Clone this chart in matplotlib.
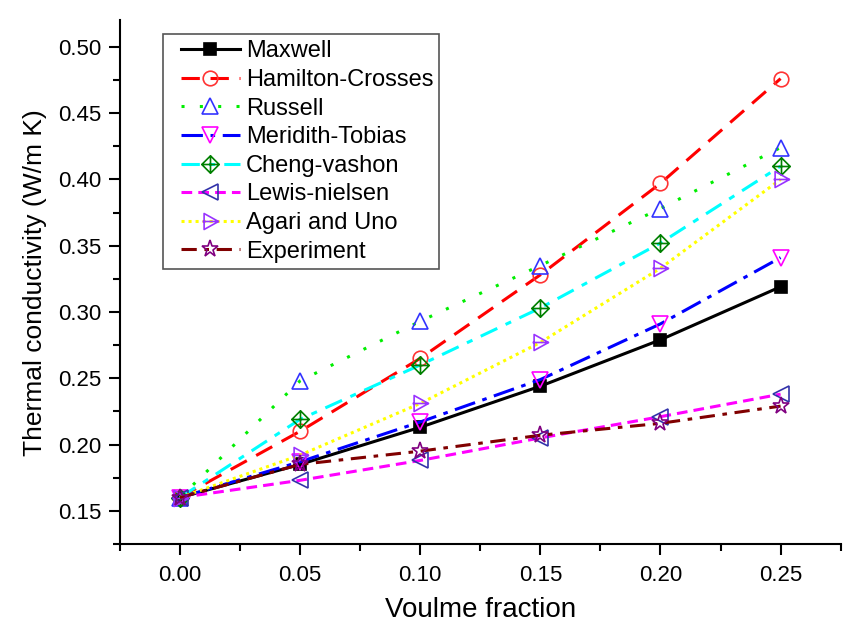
import matplotlib
matplotlib.use("Agg")
import matplotlib.pyplot as plt
from matplotlib.path import Path
from matplotlib.lines import Line2D
from matplotlib.legend_handler import HandlerLine2D
from matplotlib.ticker import MultipleLocator, FormatStrFormatter

plt.rcParams['font.family'] = ['Liberation Sans', 'DejaVu Sans']

volume_fraction = [0.00, 0.05, 0.10, 0.15, 0.20, 0.25]

maxwell = [0.160, 0.185, 0.213, 0.244, 0.279, 0.319]
hamilton_crosses = [0.160, 0.210, 0.265, 0.328, 0.397, 0.476]
russell = [0.160, 0.248, 0.293, 0.335, 0.378, 0.424]
meridith_tobias = [0.160, 0.187, 0.217, 0.249, 0.291, 0.341]
cheng_vashon = [0.160, 0.219, 0.260, 0.303, 0.352, 0.410]
lewis_nielsen = [0.160, 0.173, 0.188, 0.205, 0.221, 0.238]
agari_uno = [0.160, 0.192, 0.231, 0.277, 0.333, 0.400]
experiment = [0.160, 0.185, 0.195, 0.207, 0.216, 0.229]

# Diamond with an inner cross, and a right-pointing triangle with a centre line
diamond_cross = Path(
    [(0, 1), (1, 0), (0, -1), (-1, 0), (0, 1), (0, 1), (0, -1), (-1, 0), (1, 0)],
    [Path.MOVETO, Path.LINETO, Path.LINETO, Path.LINETO, Path.CLOSEPOLY,
     Path.MOVETO, Path.LINETO, Path.MOVETO, Path.LINETO])
tri_right_line = Path(
    [(-0.8, 1), (1, 0), (-0.8, -1), (-0.8, 1), (-0.8, 1), (-1.0, 0), (1.0, 0)],
    [Path.MOVETO, Path.LINETO, Path.LINETO, Path.LINETO, Path.CLOSEPOLY,
     Path.MOVETO, Path.LINETO])

series = [
    ("Maxwell", maxwell, dict(color='black', ls='-', marker='s', ms=8.5,
                              mfc='black', mec='black')),
    ("Hamilton-Crosses", hamilton_crosses, dict(color='#ff0000', ls=(0, (6, 3.5)), marker='o', ms=10.5,
                                                mfc='none', mec='#ff3333')),
    ("Russell", russell, dict(color='#00ee00', ls=(0, (1, 5)), marker='^', ms=11.5,
                              mfc='none', mec='#3333ff')),
    ("Meridith-Tobias", meridith_tobias, dict(color='#0000ff', ls=(0, (7, 2.5, 1.5, 2.5)), marker='v', ms=11.5,
                                              mfc='none', mec='#ff00ff')),
    ("Cheng-vashon", cheng_vashon, dict(color='#00ffff', ls=(0, (6, 3, 2, 3)), marker=diamond_cross, ms=12.5,
                                        mfc='none', mec='#008000')),
    ("Lewis-nielsen", lewis_nielsen, dict(color='#ff00ff', ls=(0, (3.5, 2)), marker='<', ms=11.5,
                                          mfc='none', mec='#3333aa')),
    ("Agari and Uno", agari_uno, dict(color='#ffff00', ls=(0, (1, 1.3)), marker=tri_right_line, ms=11.5,
                                      mfc='none', mec='#9933ff')),
    ("Experiment", experiment, dict(color='#800000', ls=(0, (5, 2.5, 1.5, 2.5)), marker='*', ms=12.5,
                                    mfc='none', mec='#800080')),
]

fig = plt.figure(figsize=(8.5, 6.34), dpi=100)
ax = fig.add_axes([0.141, 0.142, 0.848, 0.826])

for name, vals, style in series:
    ax.plot(volume_fraction, vals, label=name, lw=2.2, mew=1.2, **style)

ax.set_xlim(-0.025, 0.275)
ax.set_ylim(0.125, 0.52)
ax.xaxis.set_major_locator(MultipleLocator(0.05))
ax.xaxis.set_minor_locator(MultipleLocator(0.025))
ax.yaxis.set_major_locator(MultipleLocator(0.05))
ax.yaxis.set_minor_locator(MultipleLocator(0.025))
ax.xaxis.set_major_formatter(FormatStrFormatter('%.2f'))
ax.yaxis.set_major_formatter(FormatStrFormatter('%.2f'))

for side in ('top', 'right'):
    ax.spines[side].set_visible(False)
for side in ('left', 'bottom'):
    ax.spines[side].set_linewidth(1.5)

ax.tick_params(which='major', direction='out', length=8, width=1.5, labelsize=16)
ax.tick_params(axis='y', which='major', pad=5)
ax.tick_params(axis='x', which='major', pad=7)
ax.tick_params(which='minor', direction='out', length=5, width=1.5)

ax.set_xlabel('Voulme fraction', fontsize=20, labelpad=8)
ax.set_ylabel('Thermal conductivity (W/m K)', fontsize=19, labelpad=8)

leg = ax.legend(loc='upper left', bbox_to_anchor=(0.06, 0.973), borderaxespad=0,
                fontsize=17, frameon=True, fancybox=False, framealpha=1,
                edgecolor='#555555', handlelength=3.0, handletextpad=0.25,
                labelspacing=0.28, borderpad=0.25,
                handler_map={Line2D: HandlerLine2D(xpad=0.5)})
leg.get_frame().set_linewidth(1.2)

fig.savefig('out.png', dpi=100)
